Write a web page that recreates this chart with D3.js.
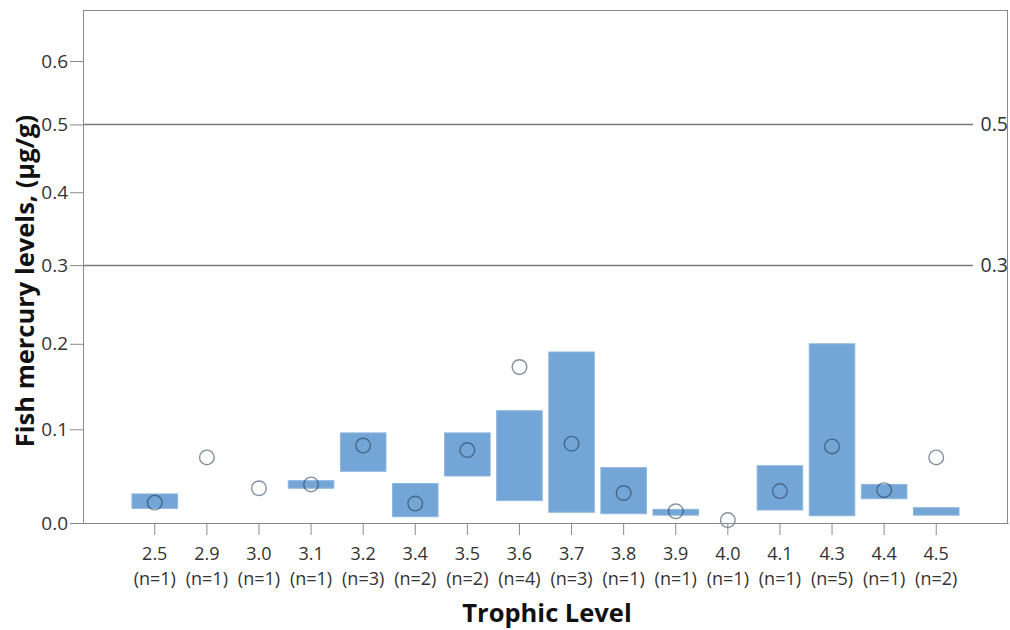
<!DOCTYPE html>
<html>
<head>
<meta charset="utf-8">
<script src="https://cdn.jsdelivr.net/npm/d3@7"></script>
<style>
  body { margin: 0; background: #fff; }
  svg { font-family: "Open Sans", "DejaVu Sans", sans-serif; }
</style>
</head>
<body>
<div id="chart"></div>
<script>
// trophic level groups
const levels = ['2.5', '2.9', '3.0', '3.1', '3.2', '3.4', '3.5', '3.6', '3.7', '3.8', '3.9', '4.0', '4.1', '4.3', '4.4', '4.5'];
const counts = [1, 1, 1, 1, 3, 2, 2, 4, 3, 1, 1, 1, 1, 5, 1, 2];
// range bar (low / high), null = no bar
const lows  = [0.015, null, null, 0.036, 0.054, 0.0064, 0.049, 0.023, 0.011, 0.0095, 0.008, null, 0.0133, 0.0074, 0.025, 0.008];
const highs = [0.030, null, null, 0.044, 0.096, 0.041, 0.096, 0.121, 0.190, 0.058, 0.014, null, 0.060, 0.200, 0.040, 0.0157];
// circle markers
const means = [0.021, 0.069, 0.036, 0.040, 0.082, 0.020, 0.077, 0.172, 0.084, 0.031, 0.012, 0.003, 0.033, 0.081, 0.034, 0.069];
const yTicks = [0.0, 0.1, 0.2, 0.3, 0.4, 0.5, 0.6];
const refLines = [0.5, 0.3];

const width = 1010, height = 630;
const margin = { top: 10, right: 2, bottom: 107, left: 83 };
const x0 = margin.left, x1 = width - margin.right;
const yBottom = height - margin.bottom; // 523

const svg = d3.select('#chart')
  .append('svg')
  .attr('width', width)
  .attr('height', height);

// mercury axis is log(1 + v) -> symlog with constant 1
const y = d3.scaleSymlog()
  .constant(1)
  .domain([0, 0.6])
  .range([yBottom, 61]);

const x = d3.scaleBand()
  .domain(levels)
  .range([x0, x1])
  .paddingInner(0.125)
  .paddingOuter(0.94);

const rows = levels.map((l, i) => ({ level: l, n: counts[i], low: lows[i], high: highs[i], mean: means[i] }));

// frame
svg.append('rect')
  .attr('x', x0 + 0.5)
  .attr('y', margin.top + 0.5)
  .attr('width', x1 - x0 - 1)
  .attr('height', yBottom - margin.top)
  .attr('fill', 'none')
  .attr('stroke', '#8a8a8a')
  .attr('stroke-width', 1);

// reference lines
const refs = svg.append('g').attr('class', 'refs');
refs.selectAll('line')
  .data(refLines)
  .enter()
  .append('line')
  .attr('x1', x0)
  .attr('x2', 973)
  .attr('y1', (d) => Math.round(y(d)) + 0.5)
  .attr('y2', (d) => Math.round(y(d)) + 0.5)
  .attr('stroke', '#7a7a7a')
  .attr('stroke-width', 1.3);
refs.selectAll('text')
  .data(refLines)
  .enter()
  .append('text')
  .attr('x', 1008)
  .attr('y', (d) => y(d))
  .attr('dy', '0.35em')
  .attr('text-anchor', 'end')
  .attr('font-size', 19.5)
  .attr('fill', '#333')
  .text((d) => d.toFixed(1));

// bars
svg.append('g')
  .attr('class', 'bars')
  .selectAll('rect')
  .data(rows.filter((d) => d.low !== null))
  .enter()
  .append('rect')
  .attr('x', (d) => x(d.level))
  .attr('y', (d) => y(d.high))
  .attr('width', x.bandwidth())
  .attr('height', (d) => y(d.low) - y(d.high))
  .attr('fill', '#73a5d6')
  .attr('stroke', '#8fb7de')
  .attr('stroke-width', 1);

// markers
svg.append('g')
  .attr('class', 'markers')
  .selectAll('circle')
  .data(rows)
  .enter()
  .append('circle')
  .attr('cx', (d) => x(d.level) + x.bandwidth() / 2)
  .attr('cy', (d) => y(d.mean))
  .attr('r', 7.3)
  .attr('fill', 'none')
  .attr('stroke', '#1f3550')
  .attr('stroke-opacity', 0.55)
  .attr('stroke-width', 1.4);

// y axis
const yAxis = svg.append('g')
  .attr('transform', `translate(${x0}, 0)`)
  .call(d3.axisLeft(y).tickValues(yTicks).tickSize(13).tickPadding(2).tickFormat(d3.format('.1f')));
yAxis.select('.domain').attr('stroke', '#8a8a8a');
yAxis.selectAll('.tick line').attr('stroke', '#8a8a8a');
yAxis.selectAll('.tick text')
  .attr('font-size', 19)
  .attr('fill', '#333')
  .attr('font-family', '"Open Sans", sans-serif');

// x axis
const xAxis = svg.append('g')
  .attr('transform', `translate(0, ${yBottom})`)
  .call(d3.axisBottom(x).tickSize(12).tickSizeOuter(0).tickFormat(''));
xAxis.select('.domain').attr('stroke', '#8a8a8a');
xAxis.selectAll('.tick line').attr('stroke', '#8a8a8a');

// two-line category labels
const xLabels = svg.append('g')
  .attr('font-size', 18)
  .attr('fill', '#333')
  .attr('text-anchor', 'middle');
xLabels.selectAll('text.lvl')
  .data(rows)
  .enter()
  .append('text')
  .attr('class', 'lvl')
  .attr('x', (d) => x(d.level) + x.bandwidth() / 2)
  .attr('y', 559.5)
  .text((d) => d.level);
xLabels.selectAll('text.cnt')
  .data(rows)
  .enter()
  .append('text')
  .attr('class', 'cnt')
  .attr('x', (d) => x(d.level) + x.bandwidth() / 2)
  .attr('y', 584.5)
  .text((d) => `(n=${d.n})`);

// axis titles
svg.append('text')
  .attr('x', 547)
  .attr('y', 622)
  .attr('text-anchor', 'middle')
  .attr('font-size', 25.5)
  .attr('font-weight', 'bold')
  .attr('fill', '#111')
  .text('Trophic Level');

svg.append('text')
  .attr('transform', 'translate(34, 281) rotate(-90)')
  .attr('text-anchor', 'middle')
  .attr('font-size', 25.5)
  .attr('font-weight', 'bold')
  .attr('fill', '#111')
  .text('Fish mercury levels, (µg/g)');
</script>
</body>
</html>
